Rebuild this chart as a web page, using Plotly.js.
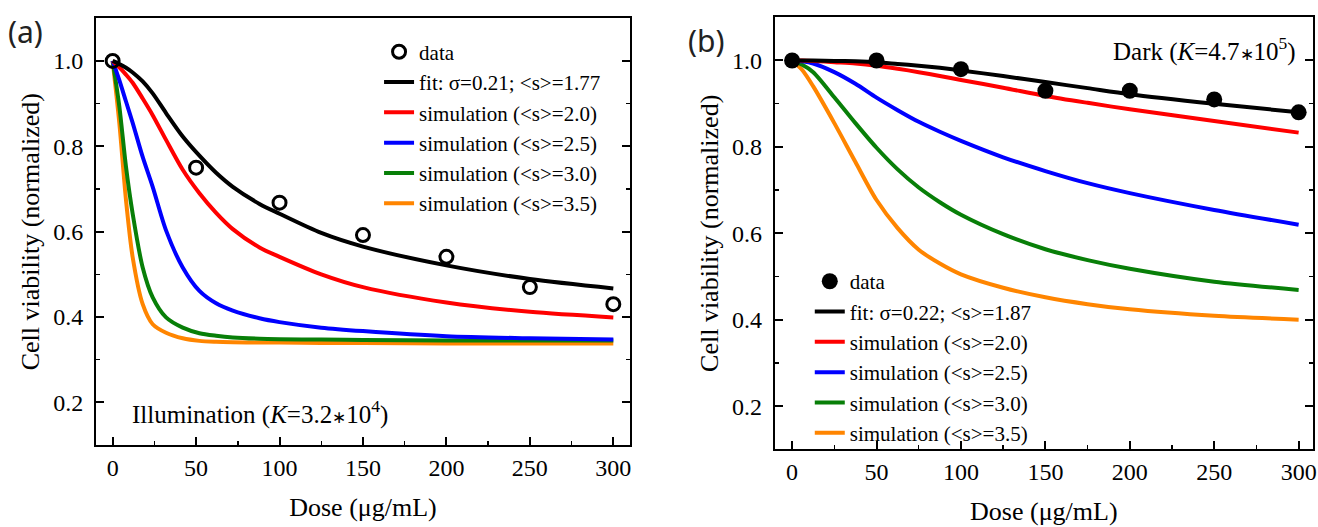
<!DOCTYPE html>
<html>
<head>
<meta charset="utf-8">
<script src="https://cdn.plot.ly/plotly-3.0.1.min.js"></script>
<style>html,body{margin:0;padding:0;background:#fff;}#chart{width:1318px;height:527px;}</style>
</head>
<body>
<div id="chart"></div>
<script>
// ---------- Panel (a): Illumination ----------
const doseData = [0, 50, 100, 150, 200, 250, 300];
const viabilityA = [1.0, 0.75, 0.668, 0.592, 0.541, 0.47, 0.43];
const doseGridA = [0, 4, 8, 12, 18, 24, 32, 42, 52, 62, 72, 88, 100, 125, 150, 200, 250, 300];
const fitA   = [1.0, 0.993, 0.984, 0.973, 0.952, 0.924, 0.878, 0.823, 0.778, 0.738, 0.705, 0.665, 0.642, 0.597, 0.565, 0.521, 0.489, 0.467];
const simA20 = [1.0, 0.985, 0.968, 0.949, 0.912, 0.873, 0.815, 0.745, 0.690, 0.644, 0.606, 0.563, 0.541, 0.500, 0.470, 0.434, 0.412, 0.399];
const simA25 = [1.0, 0.955, 0.905, 0.855, 0.775, 0.705, 0.603, 0.516, 0.461, 0.432, 0.415, 0.397, 0.388, 0.375, 0.367, 0.355, 0.350, 0.347];
const simA30 = [1.0, 0.894, 0.752, 0.642, 0.516, 0.446, 0.399, 0.375, 0.362, 0.356, 0.352, 0.349, 0.348, 0.347, 0.346, 0.345, 0.345, 0.345];
const simA35 = [1.0, 0.855, 0.674, 0.540, 0.430, 0.383, 0.363, 0.350, 0.344, 0.342, 0.341, 0.340, 0.340, 0.339, 0.339, 0.338, 0.338, 0.338];

// ---------- Panel (b): Dark ----------
const viabilityB = [1.0, 1.0, 0.98, 0.93, 0.93, 0.91, 0.88];
const doseGridB = [0, 6, 12.5, 25, 37.5, 50, 62.5, 75, 87.5, 100, 125, 150, 175, 200, 250, 300];
const fitB   = [1.0, 1.0, 1.0, 0.999, 0.998, 0.996, 0.992, 0.988, 0.983, 0.977, 0.964, 0.950, 0.936, 0.922, 0.900, 0.880];
const simB20 = [1.0, 1.0, 0.999, 0.996, 0.993, 0.988, 0.981, 0.973, 0.964, 0.955, 0.937, 0.918, 0.902, 0.887, 0.860, 0.833];
const simB25 = [1.0, 0.998, 0.993, 0.973, 0.946, 0.914, 0.885, 0.858, 0.835, 0.814, 0.776, 0.744, 0.716, 0.693, 0.654, 0.620];
const simB30 = [1.0, 0.990, 0.973, 0.915, 0.855, 0.798, 0.748, 0.706, 0.672, 0.643, 0.598, 0.563, 0.538, 0.518, 0.488, 0.469];
const simB35 = [1.0, 0.978, 0.940, 0.855, 0.765, 0.677, 0.612, 0.562, 0.530, 0.505, 0.474, 0.452, 0.436, 0.424, 0.409, 0.400];

const namesA = ['data', 'fit: σ=0.21; &lt;s&gt;=1.77', 'simulation (&lt;s&gt;=2.0)', 'simulation (&lt;s&gt;=2.5)', 'simulation (&lt;s&gt;=3.0)', 'simulation (&lt;s&gt;=3.5)'];
const namesB = ['data', 'fit: σ=0.22; &lt;s&gt;=1.87', 'simulation (&lt;s&gt;=2.0)', 'simulation (&lt;s&gt;=2.5)', 'simulation (&lt;s&gt;=3.0)', 'simulation (&lt;s&gt;=3.5)'];
const colors = ['#000000', '#000000', '#ff0000', '#0000ff', '#087f08', '#ff8500'];

const serif = 'Liberation Serif';

function curve(x, y, i, names, xa, ya, leg) {
  return {x: x, y: y, type: 'scatter', mode: 'lines', name: names[i],
    line: {color: colors[i], width: 4, shape: 'spline', smoothing: 0.8},
    xaxis: xa, yaxis: ya, legend: leg, legendrank: i + 1, hoverinfo: 'skip'};
}

const traces = [
  curve(doseGridA, simA35, 5, namesA, 'x', 'y', 'legend'),
  curve(doseGridA, simA30, 4, namesA, 'x', 'y', 'legend'),
  curve(doseGridA, simA25, 3, namesA, 'x', 'y', 'legend'),
  curve(doseGridA, simA20, 2, namesA, 'x', 'y', 'legend'),
  curve(doseGridA, fitA, 1, namesA, 'x', 'y', 'legend'),
  {x: doseData, y: viabilityA, type: 'scatter', mode: 'markers', name: namesA[0],
   marker: {symbol: 'circle-open', size: 13, color: '#000', line: {width: 3, color: '#000'}},
   xaxis: 'x', yaxis: 'y', legend: 'legend', legendrank: 1},
  curve(doseGridB, simB35, 5, namesB, 'x2', 'y2', 'legend2'),
  curve(doseGridB, simB30, 4, namesB, 'x2', 'y2', 'legend2'),
  curve(doseGridB, simB25, 3, namesB, 'x2', 'y2', 'legend2'),
  curve(doseGridB, simB20, 2, namesB, 'x2', 'y2', 'legend2'),
  curve(doseGridB, fitB, 1, namesB, 'x2', 'y2', 'legend2'),
  {x: doseData, y: viabilityB, type: 'scatter', mode: 'markers', name: namesB[0],
   marker: {symbol: 'circle', size: 16, color: '#000'},
   xaxis: 'x2', yaxis: 'y2', legend: 'legend2', legendrank: 1}
];

function xAxis(domain, range, anchor, standoff) {
  return {domain: domain, range: range, anchor: anchor, tick0: 0, dtick: 50,
    ticks: 'inside', ticklen: 8, tickwidth: 2, tickcolor: '#000',
    minor: {dtick: 25, ticks: 'inside', ticklen: 4, tickwidth: 1.5, tickcolor: '#000'},
    showline: true, linewidth: 2, linecolor: '#000', mirror: true,
    showgrid: false, zeroline: false, ticklabelstandoff: 0,
    tickfont: {family: serif, size: 24, color: '#000'},
    title: {text: 'Dose (μg/mL)', font: {family: serif, size: 26, color: '#000'}, standoff: standoff}};
}
function yAxis(domain, anchor) {
  return {domain: domain, range: [0.1, 1.1], anchor: anchor, tick0: 0, dtick: 0.2, tickformat: '.1f',
    ticks: 'inside', ticklen: 8, tickwidth: 2, tickcolor: '#000',
    minor: {dtick: 0.1, ticks: 'inside', ticklen: 4, tickwidth: 1.5, tickcolor: '#000'},
    showline: true, linewidth: 2, linecolor: '#000', mirror: 'ticks',
    showgrid: false, zeroline: false, ticklabelstandoff: 6,
    tickfont: {family: serif, size: 24, color: '#000'},
    title: {text: 'Cell viability (normalized)', font: {family: serif, size: 26, color: '#000'}, standoff: 6}};
}

const legendFont = {family: serif, size: 21, color: '#000'};
const star = '<span style="font-size:17px">∗</span>';
const layout = {
  width: 1318, height: 527,
  margin: {l: 0, r: 0, t: 0, b: 0},
  paper_bgcolor: '#fff', plot_bgcolor: '#fff',
  showlegend: true,
  xaxis: xAxis([0.0728, 0.4780], [-10, 310], 'y', 18),
  yaxis: yAxis([0.1556, 0.9653], 'x'),
  xaxis2: xAxis([0.5878, 0.9962], [-10.3, 308.5], 'y2', 18),
  yaxis2: yAxis([0.1474, 0.9672], 'x2'),
  legend: {x: 0.2876, y: 0.940, xanchor: 'left', yanchor: 'top', bgcolor: 'rgba(0,0,0,0)',
    font: legendFont, traceorder: 'normal', borderwidth: 0},
  legend2: {x: 0.6144, y: 0.5046, xanchor: 'left', yanchor: 'top', bgcolor: 'rgba(0,0,0,0)',
    font: legendFont, traceorder: 'normal', borderwidth: 0},
  annotations: [
    {text: 'Illumination (<i>K</i>=3.2' + star + '10<sup>4</sup>)', xref: 'paper', yref: 'paper',
     x: 130 / 1318, y: 1 - 412 / 527, xanchor: 'left', yanchor: 'middle', showarrow: false,
     font: {family: serif, size: 25, color: '#000'}},
    {text: 'Dark (<i>K</i>=4.7' + star + '10<sup>5</sup>)', xref: 'paper', yref: 'paper',
     x: 1298 / 1318, y: 1 - 50 / 527, xanchor: 'right', yanchor: 'middle', showarrow: false,
     font: {family: serif, size: 25, color: '#000'}},
    {text: '(a)', xref: 'paper', yref: 'paper', x: 6 / 1318, y: 1 - 31 / 527,
     xanchor: 'left', yanchor: 'middle', showarrow: false,
     font: {family: 'Noto Sans', size: 30, color: '#222'}},
    {text: '(b)', xref: 'paper', yref: 'paper', x: 686 / 1318, y: 1 - 40 / 527,
     xanchor: 'left', yanchor: 'middle', showarrow: false,
     font: {family: 'Noto Sans', size: 30, color: '#222'}}
  ]
};

Plotly.newPlot('chart', traces, layout, {displayModeBar: false, staticPlot: true});
</script>
</body>
</html>
